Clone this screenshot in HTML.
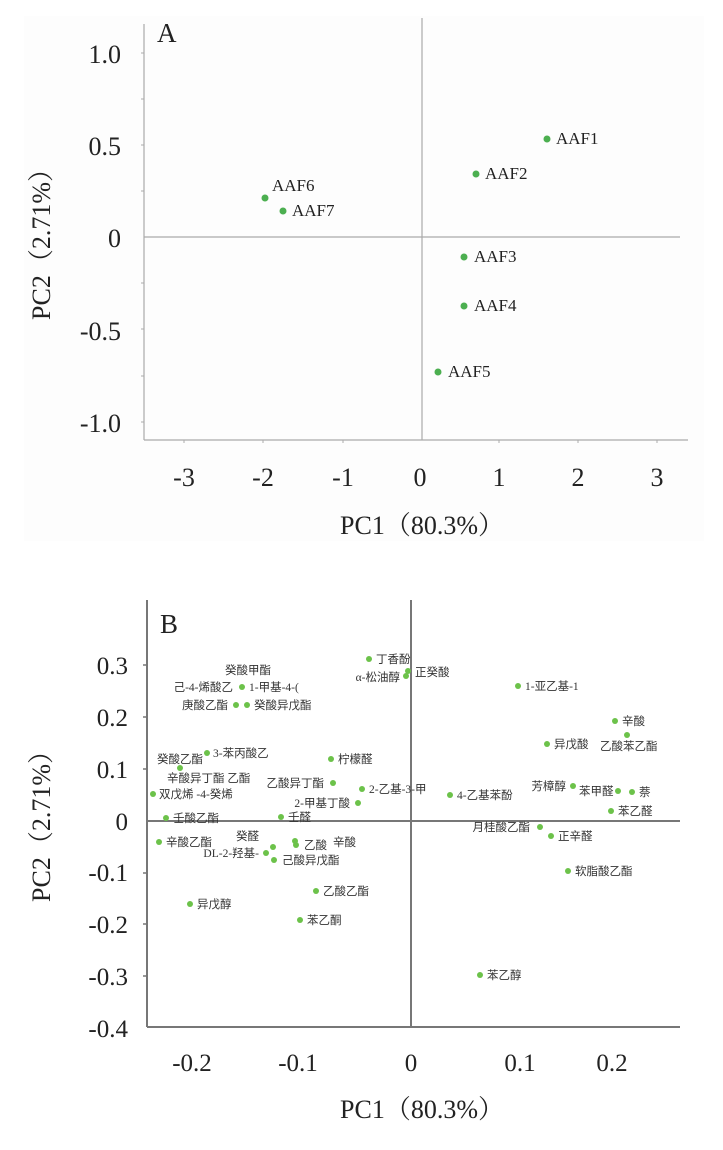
<!DOCTYPE html>
<html><head><meta charset="utf-8"><style>
body{margin:0;background:#fff}
svg{display:block}
.t{font-family:"Liberation Serif","Noto Serif CJK SC",serif;fill:#222}
.c{font-family:"Liberation Serif","Noto Sans CJK SC",serif;font-size:11.5px;fill:#333}
</style></head><body>
<svg width="723" height="1150" viewBox="0 0 723 1150" xmlns="http://www.w3.org/2000/svg">
<rect x="0" y="0" width="723" height="1150" fill="#fff"/>
<!-- Chart A -->
<rect x="24" y="16" width="680" height="525" fill="#fdfdfd"/>
<g stroke="#aaa" stroke-width="1.2" fill="none">
<line x1="144" y1="24" x2="144" y2="440"/>
<line x1="144" y1="440" x2="688" y2="440"/>
<line x1="422" y1="18" x2="422" y2="440"/>
<line x1="144" y1="237" x2="680" y2="237"/>
</g>
<g stroke="#aaa" stroke-width="1">
<line x1="141" y1="53" x2="144" y2="53"/><line x1="141" y1="99" x2="144" y2="99"/><line x1="141" y1="145" x2="144" y2="145"/><line x1="141" y1="191" x2="144" y2="191"/><line x1="141" y1="283" x2="144" y2="283"/><line x1="141" y1="329" x2="144" y2="329"/><line x1="141" y1="376" x2="144" y2="376"/><line x1="141" y1="422" x2="144" y2="422"/>
<line x1="184" y1="440" x2="184" y2="443"/><line x1="263" y1="440" x2="263" y2="443"/><line x1="343" y1="440" x2="343" y2="443"/><line x1="499" y1="440" x2="499" y2="443"/><line x1="578" y1="440" x2="578" y2="443"/><line x1="657" y1="440" x2="657" y2="443"/>
</g>
<text class="t" x="157" y="42" font-size="27">A</text>
<g class="t" font-size="26" text-anchor="end">
<text x="121" y="63">1.0</text><text x="121" y="155">0.5</text><text x="121" y="247">0</text><text x="121" y="340">-0.5</text><text x="121" y="432">-1.0</text>
</g>
<g class="t" font-size="26" text-anchor="middle">
<text x="184" y="486">-3</text><text x="263" y="486">-2</text><text x="343" y="486">-1</text><text x="420" y="486">0</text><text x="499" y="486">1</text><text x="578" y="486">2</text><text x="657" y="486">3</text>
</g>
<text class="t" x="422" y="534" font-size="26" text-anchor="middle">PC1（80.3%）</text>
<text class="t" font-size="26" text-anchor="middle" transform="translate(50,238) rotate(-90)">PC2（2.71%）</text>
<g fill="#4caf50">
<circle cx="547" cy="139" r="3.5"/><circle cx="476" cy="174" r="3.5"/><circle cx="265" cy="198" r="3.5"/><circle cx="283" cy="211" r="3.5"/><circle cx="464" cy="257" r="3.5"/><circle cx="464" cy="306" r="3.5"/><circle cx="438" cy="372" r="3.5"/>
</g>
<g class="t" font-size="17">
<text x="556" y="144">AAF1</text><text x="485" y="179">AAF2</text><text x="272" y="191">AAF6</text><text x="292" y="216">AAF7</text><text x="474" y="262">AAF3</text><text x="474" y="311">AAF4</text><text x="448" y="377">AAF5</text>
</g>
<!-- Chart B -->
<g stroke="#777" stroke-width="2" fill="none">
<line x1="147" y1="600" x2="147" y2="1027"/>
<line x1="147" y1="1027" x2="680" y2="1027"/>
<line x1="411" y1="600" x2="411" y2="1027"/>
<line x1="147" y1="821" x2="680" y2="821"/>
</g>
<g stroke="#777" stroke-width="1.5">
<line x1="143" y1="665" x2="147" y2="665"/><line x1="143" y1="717" x2="147" y2="717"/><line x1="143" y1="769" x2="147" y2="769"/><line x1="143" y1="873" x2="147" y2="873"/><line x1="143" y1="924" x2="147" y2="924"/><line x1="143" y1="976" x2="147" y2="976"/>
</g>
<text class="t" x="160" y="633" font-size="27">B</text>
<g class="t" font-size="25" text-anchor="end">
<text x="128" y="674">0.3</text><text x="128" y="726">0.2</text><text x="128" y="778">0.1</text><text x="128" y="830">0</text><text x="128" y="881">-0.1</text><text x="128" y="933">-0.2</text><text x="128" y="985">-0.3</text><text x="128" y="1037">-0.4</text>
</g>
<g class="t" font-size="25" text-anchor="middle">
<text x="192" y="1071">-0.2</text><text x="298" y="1071">-0.1</text><text x="411" y="1071">0</text><text x="520" y="1071">0.1</text><text x="612" y="1071">0.2</text>
</g>
<text class="t" x="422" y="1118" font-size="26" text-anchor="middle">PC1（80.3%）</text>
<text class="t" font-size="26" text-anchor="middle" transform="translate(50,820) rotate(-90)">PC2（2.71%）</text>
<g fill="#6cc24a">
<circle cx="369" cy="659" r="3"/><circle cx="408" cy="671" r="3"/><circle cx="406" cy="676" r="3"/><circle cx="242" cy="687" r="3"/><circle cx="236" cy="705" r="3"/><circle cx="247" cy="705" r="3"/><circle cx="207" cy="753" r="3"/><circle cx="180" cy="768" r="3"/><circle cx="153" cy="794" r="3"/><circle cx="166" cy="818" r="3"/><circle cx="331" cy="759" r="3"/><circle cx="333" cy="783" r="3"/><circle cx="362" cy="789" r="3"/><circle cx="358" cy="803" r="3"/><circle cx="281" cy="817" r="3"/><circle cx="159" cy="842" r="3"/><circle cx="273" cy="847" r="3"/><circle cx="295" cy="841" r="3"/><circle cx="296" cy="845" r="3"/><circle cx="266" cy="853" r="3"/><circle cx="274" cy="860" r="3"/><circle cx="316" cy="891" r="3"/><circle cx="190" cy="904" r="3"/><circle cx="300" cy="920" r="3"/><circle cx="480" cy="975" r="3"/>
<circle cx="518" cy="686" r="3"/><circle cx="615" cy="721" r="3"/><circle cx="627" cy="735" r="3"/><circle cx="547" cy="744" r="3"/><circle cx="573" cy="786" r="3"/><circle cx="618" cy="791" r="3"/><circle cx="632" cy="792" r="3"/><circle cx="611" cy="811" r="3"/><circle cx="450" cy="795" r="3"/><circle cx="540" cy="827" r="3"/><circle cx="551" cy="836" r="3"/><circle cx="568" cy="871" r="3"/>
</g>
<g class="c">
<text x="376" y="663">丁香酚</text><text x="415" y="676">正癸酸</text><text x="400" y="681" text-anchor="end">α-松油醇</text>
<text x="225" y="674">癸酸甲酯</text><text x="233" y="691" text-anchor="end">己-4-烯酸乙</text><text x="249" y="691">1-甲基-4-(</text>
<text x="228" y="709" text-anchor="end">庚酸乙酯</text><text x="254" y="709">癸酸异戊酯</text>
<text x="213" y="757">3-苯丙酸乙</text><text x="157" y="763">癸酸乙酯</text><text x="167" y="782">辛酸异丁酯  乙酯</text>
<text x="159" y="798">双戊烯  -4-癸烯</text><text x="173" y="822">壬酸乙酯</text>
<text x="338" y="763">柠檬醛</text><text x="324" y="787" text-anchor="end">乙酸异丁酯</text><text x="369" y="793">2-乙基-3-甲</text>
<text x="350" y="807" text-anchor="end">2-甲基丁酸</text><text x="288" y="821">壬醛</text>
<text x="166" y="846">辛酸乙酯</text><text x="236" y="840">癸醛</text><text x="304" y="849">乙酸</text><text x="333" y="846">辛酸</text>
<text x="259" y="857" text-anchor="end">DL-2-羟基-</text><text x="282" y="864">己酸异戊酯</text>
<text x="323" y="895">乙酸乙酯</text><text x="197" y="908">异戊醇</text><text x="307" y="924">苯乙酮</text><text x="487" y="979">苯乙醇</text>
<text x="525" y="690">1-亚乙基-1</text><text x="622" y="725">辛酸</text><text x="600" y="750">乙酸苯乙酯</text><text x="554" y="748">异戊酸</text>
<text x="566" y="790" text-anchor="end">芳樟醇</text><text x="579" y="795">苯甲醛</text><text x="639" y="796">萘</text><text x="618" y="815">苯乙醛</text>
<text x="457" y="799">4-乙基苯酚</text><text x="530" y="831" text-anchor="end">月桂酸乙酯</text><text x="558" y="840">正辛醛</text><text x="575" y="875">软脂酸乙酯</text>
</g>
</svg>
</body></html>
